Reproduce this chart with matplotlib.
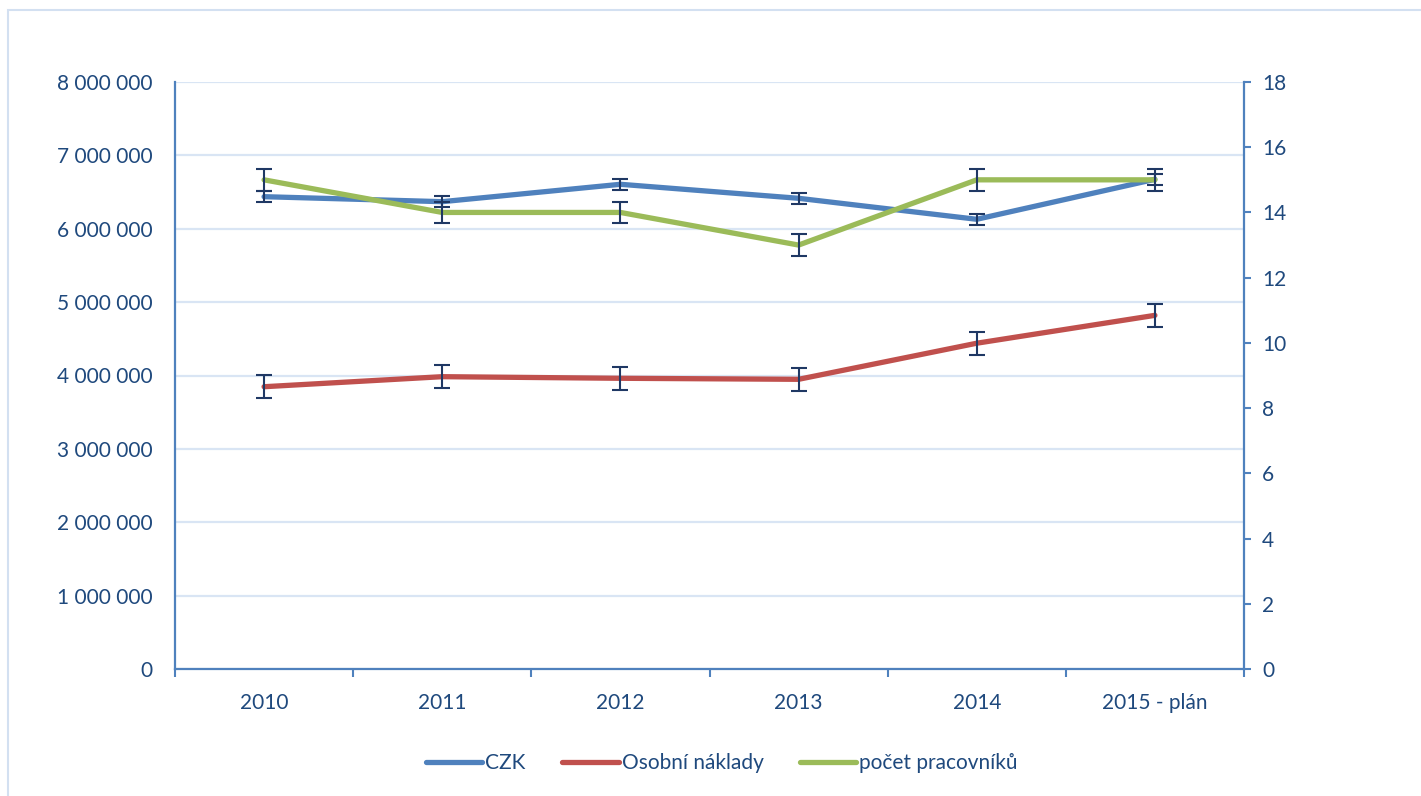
import numpy as np
import matplotlib.pyplot as plt
from matplotlib.ticker import FuncFormatter, FixedLocator
from matplotlib.patches import Rectangle


### DATA ###

years = ['2010', '2011', '2012', '2013', '2014', '2015 - plán']
czk = [6437000, 6369000, 6606000, 6415000, 6129000, 6674000]
osobni = [3847000, 3984000, 3962000, 3948000, 4440000, 4820000]
pocet = [15, 14, 14, 13, 15, 15]


### STYLE ###

txt_col = '#1f497d'
axis_col = '#4f81bd'
grid_col = '#d9e5f4'
err_col = '#1f3864'
col_czk = '#4f81bd'
col_osobni = '#c0504d'
col_pocet = '#9bbb59'
fsize = 15

plt.rcParams['font.family'] = ['Lato', 'DejaVu Sans']


def std_err(vals):
    """ excel style standard error, same value for every point """
    v = np.asarray(vals, dtype=float)
    return np.std(v, ddof=1) / np.sqrt(len(v))


def space_fmt(v, pos):
    """ 8000000 -> '8 000 000' """
    return '{:,.0f}'.format(v).replace(',', ' ')


def draw_series(ax, x, y, color, label):
    """ thick line plus standard error bars on top """
    line, = ax.plot(x, y, color=color, lw=3.8, solid_capstyle='round',
                    solid_joinstyle='round', label=label, zorder=3)
    ax.errorbar(x, y, yerr=std_err(y), fmt='none', ecolor=err_col,
                elinewidth=1.5, capsize=6, capthick=1.5, zorder=4)
    return line


fig = plt.figure(figsize=(14.21, 7.96), dpi=100)
ax1 = fig.add_axes([175 / 1421, 1 - 669 / 796, 1069 / 1421, 587 / 796])
ax2 = ax1.twinx()

x = np.arange(len(years))

l1 = draw_series(ax1, x, czk, col_czk, 'CZK')
l2 = draw_series(ax1, x, osobni, col_osobni, 'Osobní náklady')
l3 = draw_series(ax2, x, pocet, col_pocet, 'počet pracovníků')

# left axis
ax1.set_xlim(-0.5, len(years) - 0.5)
ax1.set_ylim(0, 8000000)
ax1.set_yticks(np.arange(0, 8000001, 1000000))
ax1.yaxis.set_major_formatter(FuncFormatter(space_fmt))
ax1.tick_params(axis='y', length=0, pad=16, labelsize=fsize, labelcolor=txt_col)
ax1.grid(axis='y', color=grid_col, lw=1.6)
ax1.set_axisbelow(True)

# categories, ticks sit between them
ax1.set_xticks(x)
ax1.set_xticklabels(years)
ax1.xaxis.set_minor_locator(FixedLocator(np.arange(-0.5, len(years), 1.0)))
ax1.tick_params(axis='x', which='major', length=0, pad=17,
                labelsize=fsize, labelcolor=txt_col)
ax1.tick_params(axis='x', which='minor', length=6, width=1.5, color=axis_col)

# right axis
ax2.set_ylim(0, 18)
ax2.set_yticks(np.arange(0, 19, 2))
ax2.tick_params(axis='y', length=5, width=1.5, color=axis_col, pad=8,
                labelsize=fsize, labelcolor=txt_col)

for ax in (ax1, ax2):
    ax.spines['top'].set_visible(False)
    for s in ('left', 'right', 'bottom'):
        ax.spines[s].set_color(axis_col)
        ax.spines[s].set_linewidth(1.6)
ax1.spines['right'].set_visible(False)
ax2.spines['left'].set_visible(False)
ax2.spines['bottom'].set_visible(False)

# legend at bottom
fig.legend(handles=[l1, l2, l3], loc='center', bbox_to_anchor=(722 / 1421, 1 - 763 / 796),
           ncol=3, frameon=False, fontsize=fsize, handlelength=2.7,
           handletextpad=0.15, columnspacing=1.75, labelcolor=txt_col)

# chart area frame
fig.patches.append(Rectangle((8 / 1421, -0.1), 1.2, 1 - 10 / 796 + 0.1,
                             transform=fig.transFigure, fill=False,
                             edgecolor='#d3e0f1', lw=1.5))

fig.savefig('out.png', dpi=100)
